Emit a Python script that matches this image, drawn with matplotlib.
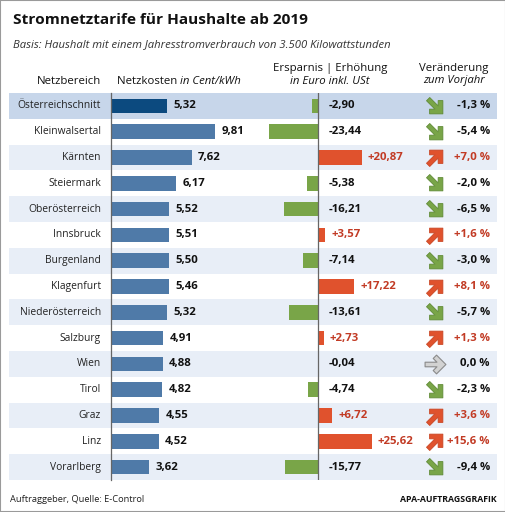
import matplotlib.pyplot as plt
from matplotlib.path import Path
from matplotlib.markers import MarkerStyle
from matplotlib.transforms import Affine2D
from matplotlib.patches import Rectangle

plt.rcParams['font.family'] = ['Open Sans', 'DejaVu Sans']

# Daten
regions = ["Österreichschnitt", "Kleinwalsertal", "Kärnten", "Steiermark",
           "Oberösterreich", "Innsbruck", "Burgenland", "Klagenfurt",
           "Niederösterreich", "Salzburg", "Wien", "Tirol", "Graz", "Linz",
           "Vorarlberg"]
netzkosten = [5.32, 9.81, 7.62, 6.17, 5.52, 5.51, 5.50, 5.46, 5.32, 4.91,
              4.88, 4.82, 4.55, 4.52, 3.62]
ersparnis = [-2.90, -23.44, 20.87, -5.38, -16.21, 3.57, -7.14, 17.22, -13.61,
             2.73, -0.04, -4.74, 6.72, 25.62, -15.77]
veraenderung = [-1.3, -5.4, 7.0, -2.0, -6.5, 1.6, -3.0, 8.1, -5.7, 1.3, 0.0,
                -2.3, 3.6, 15.6, -9.4]

W, H = 506, 512
n = len(regions)

BLUE_DARK = '#0c4a7f'
BLUE = '#4f7aa8'
GREEN = '#79a548'
RED = '#e0522d'
RED_TXT = '#c23b25'
BAND_TOP = '#c7d6ea'
BAND = '#e8eef7'


def fx(px):
    return px / W


def fy(py):
    return 1 - py / H


def de(v, nd=2):
    return f"{v:.{nd}f}".replace('.', ',')


fig = plt.figure(figsize=(W / 100, H / 100), dpi=100)
fig.patches.append(Rectangle((0, 0), 1, 1, transform=fig.transFigure,
                             fill=False, edgecolor='#9a9a9a', linewidth=1.5))

top, bot = 93, 480
rect_h = (bot - top) / H

# Hintergrund-Zeilen (x in Pixeln)
bg = fig.add_axes([fx(9), fy(bot), fx(488), rect_h])
bg.set_xlim(9, 497)
bg.set_ylim(n - 0.5, -0.5)
bg.axis('off')
for i in range(n):
    if i == 0:
        bg.axhspan(i - 0.5, i + 0.5, color=BAND_TOP, lw=0)
    elif i % 2 == 0:
        bg.axhspan(i - 0.5, i + 0.5, color=BAND, lw=0)

# Netzkosten
ax1 = fig.add_axes([fx(111), fy(bot), fx(127), rect_h])
ax1.set_xlim(0, 12)
ax1.set_ylim(n - 0.5, -0.5)
ax1.patch.set_visible(False)
cols = [BLUE_DARK] + [BLUE] * (n - 1)
ax1.barh(range(n), netzkosten, height=0.56, color=cols)
for s in ['top', 'right', 'bottom']:
    ax1.spines[s].set_visible(False)
ax1.spines['left'].set_color('#666666')
ax1.spines['left'].set_linewidth(0.9)
ax1.set_xticks([])
ax1.set_yticks([])
for i, v in enumerate(netzkosten):
    ax1.text(v + 0.6, i, de(v), ha='left', va='center', fontsize=8.2,
             fontweight='bold', color='#111111')

# Ersparnis / Erhoehung
ax2 = fig.add_axes([fx(318 - 63), fy(bot), fx(126), rect_h])
ax2.set_xlim(-30, 30)
ax2.set_ylim(n - 0.5, -0.5)
ax2.axis('off')
ax2.axvline(0, color='#666666', lw=0.9)
ax2.barh(range(n), ersparnis, height=0.56,
         color=[RED if v > 0 else GREEN for v in ersparnis])
for i, v in enumerate(ersparnis):
    if v > 0:
        ax2.text(v + 2.9, i, '+' + de(v), ha='left', va='center',
                 fontsize=8.2, fontweight='bold', color=RED_TXT)
    else:
        ax2.text(5.2, i, de(v), ha='left', va='center', fontsize=8.2,
                 fontweight='bold', color='#111111')

# Pfeile (Chevron-Kopf)
arrow = Path([(-1, 0.22), (0.14, 0.22), (-0.22, 0.58), (0.1, 0.9), (1, 0),
              (0.1, -0.9), (-0.22, -0.58), (0.14, -0.22), (-1, -0.22),
              (-1, 0.22)],
             [Path.MOVETO] + [Path.LINETO] * 8 + [Path.CLOSEPOLY])
for i, (name, p) in enumerate(zip(regions, veraenderung)):
    bg.text(101, i, name, ha='right', va='center', fontsize=7.4,
            color='#222222')
    if p > 0:
        m = MarkerStyle(arrow, transform=Affine2D().rotate_deg(45))
        bg.plot(435, i, marker=m, ms=15, color=RED, mec='#c84523', mew=0.6)
        txt, c = '+' + de(p, 1) + ' %', RED_TXT
    elif p < 0:
        m = MarkerStyle(arrow, transform=Affine2D().rotate_deg(-45))
        bg.plot(435, i, marker=m, ms=15, color=GREEN, mec='#5f8a35', mew=0.6)
        txt, c = de(p, 1) + ' %', '#111111'
    else:
        m = MarkerStyle(arrow)
        bg.plot(435, i, marker=m, ms=15, color='#d2d2d2', mec='#8a8a8a',
                mew=0.8)
        txt, c = de(p, 1) + ' %', '#111111'
    bg.text(490, i, txt, ha='right', va='center', fontsize=8.2,
            fontweight='bold', color=c)

# Kopf
fig.text(fx(13), fy(20), "Stromnetztarife für Haushalte ab 2019",
         fontsize=11.1, fontweight='bold', va='center', color='#111111')
fig.text(fx(13), fy(45),
         "Basis: Haushalt mit einem Jahresstromverbrauch von 3.500 Kilowattstunden",
         fontsize=8.15, style='italic', va='center', color='#333333')
fig.text(fx(101), fy(81), "Netzbereich", fontsize=8.2, ha='right',
         va='center', color='#111111')
t = fig.text(fx(117), fy(81), "Netzkosten ", fontsize=8.2, ha='left',
             va='center', color='#111111')
fig.canvas.draw()
bb = t.get_window_extent()
fig.text(bb.x1 / W, fy(81), "in Cent/kWh", fontsize=8.2, style='italic',
         ha='left', va='center', color='#111111')
fig.text(fx(330), fy(68), "Ersparnis | Erhöhung", fontsize=8.2, ha='center',
         va='center', color='#111111')
fig.text(fx(330), fy(81), "in Euro inkl. USt", fontsize=8.2, style='italic',
         ha='center', va='center', color='#111111')
fig.text(fx(454), fy(68), "Veränderung", fontsize=8.2, ha='center',
         va='center', color='#111111')
fig.text(fx(454), fy(81), "zum Vorjahr", fontsize=8.2, style='italic',
         ha='center', va='center', color='#111111')

# Fuss
fig.text(fx(10), fy(500), "Auftraggeber, Quelle: E-Control", fontsize=6.7,
         va='center', color='#222222')
fig.text(fx(497), fy(500), "APA-AUFTRAGSGRAFIK", fontsize=6.3,
         fontweight='bold', ha='right', va='center', color='#111111')

fig.savefig('out.png', dpi=100)
